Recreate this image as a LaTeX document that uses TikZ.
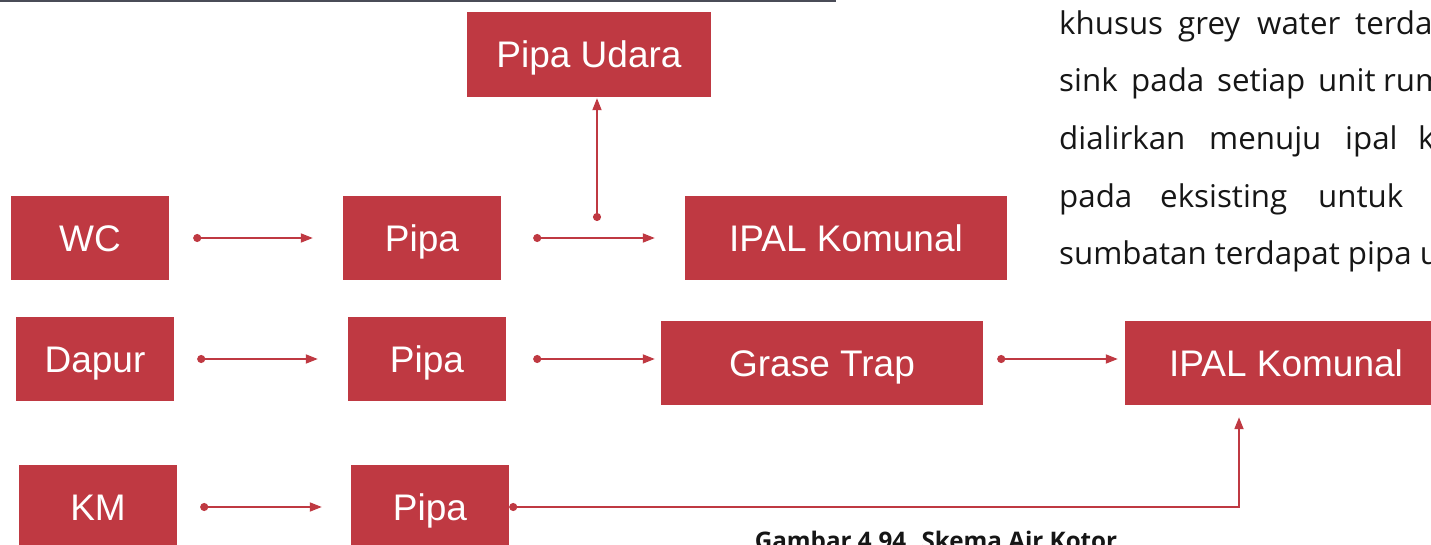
\documentclass[tikz,border=0pt]{standalone}
\usepackage{fontspec}
\setmainfont{Liberation Sans}
\newfontfamily\bodyfont{Open Sans}
\usetikzlibrary{arrows.meta}
\definecolor{boxred}{RGB}{191,57,66}
\definecolor{rulegray}{RGB}{74,76,87}
\definecolor{inktext}{RGB}{22,22,22}
\begin{document}
\begin{tikzpicture}[x=1pt,y=-1pt,
  block/.style={fill=boxred, text=white, inner sep=0pt, minimum height=84pt,
    text height=26.5pt, text depth=0pt, font=\fontsize{37}{41}\selectfont},
  smallblock/.style={block, minimum width=158pt},
  wideblock/.style={block, minimum width=322pt},
  flow/.style={draw=boxred, line width=1.8pt,
    {Circle[length=8pt]}-{Triangle[length=12pt,width=9pt]}},
  word/.style={anchor=base west, inner sep=0pt, text=inktext,
    font=\bodyfont\fontsize{31.3}{36}\selectfont},
  caption/.style={anchor=base, inner sep=0pt, text=inktext,
    font=\bodyfont\bfseries\fontsize{24.2}{28}\selectfont}]
\useasboundingbox (0,0) rectangle (1431,545);
\clip (0,0) rectangle (1431,545);

% rule along the top edge
\draw[rulegray, line width=2.4pt] (0,1) -- (836,1);

% blocks
\node[block, minimum width=244pt, minimum height=85pt] (udara) at (589,54.5) {Pipa Udara};
\node[smallblock] (wc)     at (90,238)  {WC};
\node[smallblock] (pipaA)  at (422,238) {Pipa};
\node[wideblock]  (ipalA)  at (846,238) {IPAL Komunal};
\node[smallblock] (dapur)  at (95,359)  {Dapur};
\node[smallblock] (pipaB)  at (427,359) {Pipa};
\node[wideblock]  (grase)  at (822,363) {Grase Trap};
\node[wideblock]  (ipalB)  at (1286,363) {IPAL Komunal};
\node[smallblock] (km)     at (98,507)  {KM};
\node[smallblock] (pipaC)  at (430,507) {Pipa};

% connectors
\draw[flow, shorten <=24pt, shorten >=30pt] (wc) -- (pipaA);
\draw[flow, shorten <=32pt, shorten >=30pt] (pipaA) -- (ipalA);
\coordinate (tap) at (597,221);
\draw[flow, shorten >=1pt] (tap) -- (tap |- udara.south);
\draw[flow, shorten <=23pt, shorten >=30pt] (dapur) -- (pipaB);
\draw[flow, shorten <=27pt, shorten >=6pt] (pipaB.east) -- (pipaB.east -| grase.west);
\draw[flow, shorten <=14pt, shorten >=7pt] ([yshift=4pt]grase.east) -- ([yshift=4pt]ipalB.west);
\draw[flow, shorten <=23pt, shorten >=29pt] (km) -- (pipaC);
\draw[flow, shorten >=12pt] (pipaC.east) -| ([xshift=-47pt]ipalB.south);

% body text, justified lines
\node[word] (l1a) at (1059,35) {khusus};
\node[word] (l1b) at (1178,35) {grey};
\node[word] (l1c) at (1257,35) {water};
\node[word] (l1d) at (1355,35) {terdapat};
\node[word] (l2a) at (1059,92) {sink};
\node[word] (l2b) at (1131,92) {pada};
\node[word] (l2c) at (1217,92) {setiap};
\node[word] (l2d) at (1318,92) {unit};
\node[word] (l2e) at (1383,92) {rumah};
\node[word] (l3a) at (1059,150) {dialirkan};
\node[word] (l3b) at (1209,150) {menuju};
\node[word] (l3c) at (1345,150) {ipal};
\node[word] (l3d) at (1418,150) {komunal};
\node[word] (l4a) at (1059,207.5) {pada};
\node[word] (l4b) at (1160,207.5) {eksisting};
\node[word] (l4c) at (1318,207.5) {untuk};
\node[word] (l5a) at (1059,265) {sumbatan terdapat pipa udara};

% figure caption
\node[caption] (cap) at (936,549.5) {Gambar 4.94. Skema Air Kotor};
\end{tikzpicture}
\end{document}
